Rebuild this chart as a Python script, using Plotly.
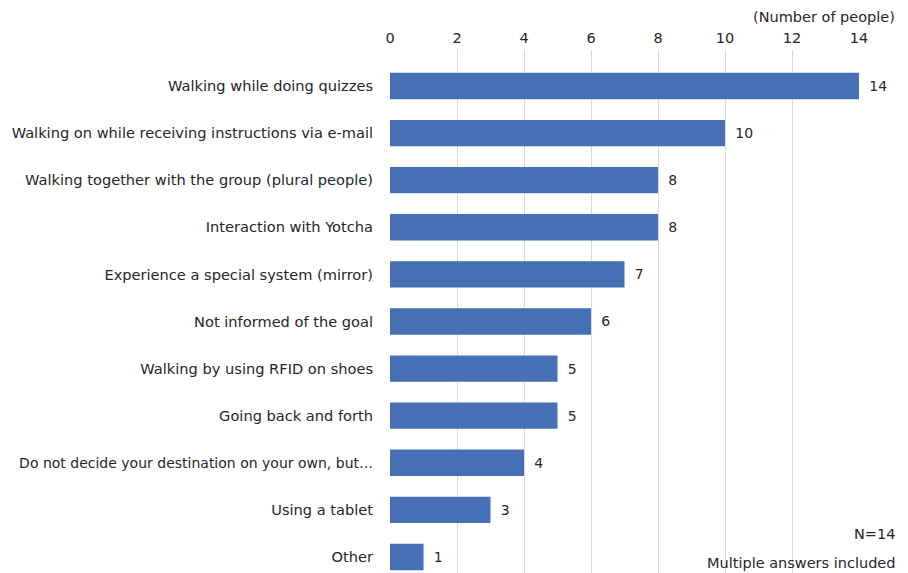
import plotly.graph_objects as go

categories = [
    "Walking while doing quizzes",
    "Walking on while receiving instructions via e-mail",
    "Walking together with the group (plural people)",
    "Interaction with Yotcha",
    "Experience a special system (mirror)",
    "Not informed of the goal",
    "Walking by using RFID on shoes",
    "Going back and forth",
    "Do not decide your destination on your own, but…",
    "Using a tablet",
    "Other",
]
values = [14, 10, 8, 8, 7, 6, 5, 5, 4, 3, 1]
x_ticks = [0, 2, 4, 6, 8, 10, 12, 14]

tick_text = []
for c in categories:
    if c.startswith("Do not decide"):
        tick_text.append("<span style='font-size:14px'>" + c + "</span>")
    else:
        tick_text.append(c)

fig = go.Figure()
fig.add_trace(go.Bar(
    x=values,
    y=list(range(len(categories))),
    orientation="h",
    marker=dict(color="#4670B5", line=dict(width=0)),
    width=0.56,
    text=["\u2009 " + str(v) for v in values],
    textposition="outside",
    textfont=dict(size=14, color="#262626"),
    cliponaxis=False,
))

fig.update_layout(
    width=908, height=573,
    margin=dict(l=390, r=49, t=50, b=0),
    paper_bgcolor="white",
    plot_bgcolor="white",
    font=dict(family="DejaVu Sans, Verdana, sans-serif", size=14, color="#262626"),
    showlegend=False,
    xaxis=dict(
        side="top",
        range=[0, 14],
        tickvals=x_ticks,
        ticktext=[str(t) for t in x_ticks],
        tickfont=dict(size=14.5, color="#262626"),
        showgrid=True,
        gridcolor="#D9D9D9",
        gridwidth=1,
        zeroline=False,
        showline=False,
        ticks="",
        ticklabelstandoff=3,
    ),
    yaxis=dict(
        tickvals=list(range(len(categories))),
        ticktext=tick_text,
        range=[10.34, -0.764],
        showgrid=False,
        zeroline=False,
        showline=False,
        ticks="",
        ticklabelstandoff=16,
        tickfont=dict(size=14.6, color="#262626"),
    ),
    annotations=[
        dict(text="(Number of people)", xref="paper", yref="paper", x=1.081, y=1.0, yshift=33,
             xanchor="right", yanchor="middle", showarrow=False, font=dict(size=14.5, color="#262626")),
        dict(text="N=14", xref="paper", yref="paper", x=1.081, y=0.074,
             xanchor="right", yanchor="middle", showarrow=False, font=dict(size=14.5, color="#262626")),
        dict(text="Multiple answers included", xref="paper", yref="paper", x=1.081, y=0.020,
             xanchor="right", yanchor="middle", showarrow=False, font=dict(size=14.5, color="#262626")),
    ],
)

fig.write_html("out.html")
